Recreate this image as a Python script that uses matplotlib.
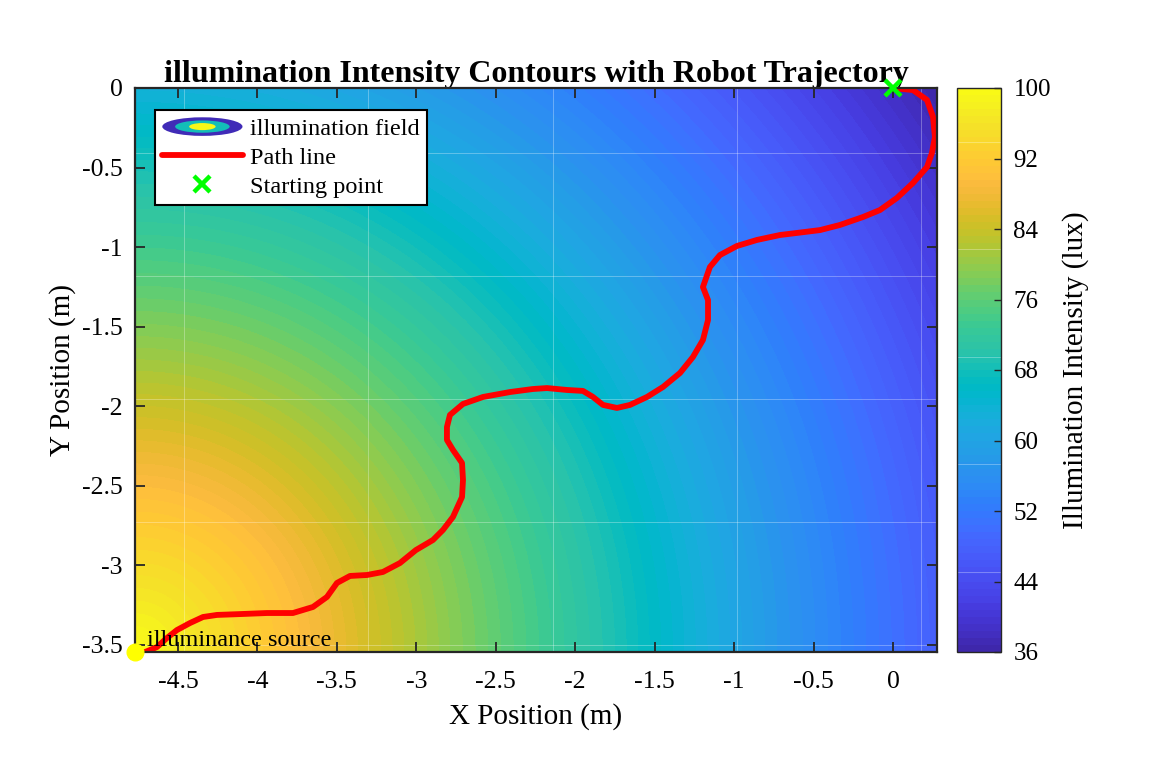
import numpy as np
import matplotlib
matplotlib.use("Agg")
import matplotlib.pyplot as plt
from matplotlib.colors import LinearSegmentedColormap
from matplotlib.legend_handler import HandlerBase
from matplotlib.patches import Ellipse, Patch
from matplotlib.lines import Line2D
from matplotlib.ticker import FuncFormatter

plt.rcParams['font.family'] = ['Liberation Serif', 'DejaVu Serif']
plt.rcParams['axes.unicode_minus'] = False

# ---------------- data ----------------
source_xy = (-4.77, -3.545)          # illuminance source (m)
x_limits = (-4.77, 0.277)
y_limits = (-3.545, 0.0)

# radial intensity profile (distance m -> lux)
profile_dist = [0.0, 1.0, 2.0, 3.0, 4.0, 5.0, 6.17]
profile_lux = [100, 90, 79, 69, 58, 48, 36]

# robot trajectory (m), from starting point to the source
path_x = [0.000, 0.126, 0.214, 0.252, 0.264, 0.245, 0.214, 0.126, 0.025, -0.082,
          -0.189, -0.334, -0.459, -0.604, -0.711, -0.856, -0.982, -1.089, -1.152, -1.196,
          -1.164, -1.164, -1.196, -1.259, -1.340, -1.447, -1.548, -1.655, -1.737, -1.825,
          -1.888, -1.951, -2.052, -2.177, -2.266, -2.410, -2.580, -2.706, -2.788, -2.807,
          -2.807, -2.769, -2.712, -2.706, -2.712, -2.769, -2.832, -2.895, -3.002, -3.103,
          -3.210, -3.310, -3.417, -3.499, -3.562, -3.650, -3.776, -3.940, -4.091, -4.254,
          -4.342, -4.424, -4.506, -4.569, -4.632, -4.720, -4.770]
path_y = [0.000, -0.013, -0.075, -0.182, -0.308, -0.409, -0.497, -0.597, -0.691, -0.767,
          -0.811, -0.861, -0.893, -0.911, -0.924, -0.955, -0.993, -1.050, -1.125, -1.251,
          -1.333, -1.458, -1.584, -1.691, -1.791, -1.879, -1.942, -1.992, -2.011, -1.992,
          -1.942, -1.904, -1.898, -1.886, -1.892, -1.911, -1.942, -1.986, -2.055, -2.131,
          -2.212, -2.275, -2.357, -2.464, -2.571, -2.696, -2.778, -2.841, -2.904, -2.986,
          -3.042, -3.061, -3.067, -3.111, -3.199, -3.262, -3.300, -3.300, -3.306, -3.312,
          -3.325, -3.363, -3.407, -3.457, -3.514, -3.551, -3.545]
start_xy = (0.0, 0.0)

cbar_ticks = [36, 44, 52, 60, 68, 76, 84, 92, 100]
x_ticks = [-4.5, -4, -3.5, -3, -2.5, -2, -1.5, -1, -0.5, 0]
y_ticks = [0, -0.5, -1, -1.5, -2, -2.5, -3, -3.5]

# faint rendering seams visible in the reference
seam_x = [-4.462, -3.304, -2.140, -0.982, 0.176]
seam_y = [-0.409, -1.182, -1.955, -2.728, -3.501]
seam_c = [93.9, 81.7, 69.5, 57.3, 45.1]

# ---------------- parula colormap ----------------
parula_data = [
    [0.2422, 0.1504, 0.6603], [0.2504, 0.1650, 0.7076], [0.2578, 0.1818, 0.7511],
    [0.2647, 0.1978, 0.7952], [0.2706, 0.2147, 0.8364], [0.2751, 0.2342, 0.8710],
    [0.2783, 0.2559, 0.8991], [0.2803, 0.2782, 0.9221], [0.2813, 0.3006, 0.9414],
    [0.2810, 0.3228, 0.9579], [0.2795, 0.3447, 0.9717], [0.2760, 0.3667, 0.9829],
    [0.2699, 0.3892, 0.9906], [0.2602, 0.4123, 0.9952], [0.2440, 0.4358, 0.9988],
    [0.2206, 0.4603, 0.9973], [0.1963, 0.4847, 0.9892], [0.1834, 0.5074, 0.9798],
    [0.1786, 0.5289, 0.9682], [0.1764, 0.5499, 0.9520], [0.1687, 0.5703, 0.9359],
    [0.1540, 0.5902, 0.9218], [0.1460, 0.6091, 0.9079], [0.1380, 0.6276, 0.8973],
    [0.1248, 0.6459, 0.8883], [0.1113, 0.6635, 0.8763], [0.0952, 0.6798, 0.8598],
    [0.0689, 0.6948, 0.8394], [0.0297, 0.7082, 0.8163], [0.0036, 0.7203, 0.7917],
    [0.0067, 0.7312, 0.7660], [0.0433, 0.7411, 0.7394], [0.0964, 0.7500, 0.7120],
    [0.1408, 0.7584, 0.6842], [0.1717, 0.7670, 0.6554], [0.1938, 0.7758, 0.6251],
    [0.2161, 0.7843, 0.5923], [0.2470, 0.7918, 0.5567], [0.2906, 0.7973, 0.5188],
    [0.3406, 0.8008, 0.4789], [0.3909, 0.8029, 0.4354], [0.4456, 0.8024, 0.3909],
    [0.5044, 0.7993, 0.3480], [0.5616, 0.7942, 0.3045], [0.6174, 0.7876, 0.2612],
    [0.6720, 0.7793, 0.2227], [0.7242, 0.7698, 0.1910], [0.7738, 0.7598, 0.1646],
    [0.8203, 0.7498, 0.1535], [0.8634, 0.7406, 0.1596], [0.9035, 0.7330, 0.1774],
    [0.9393, 0.7288, 0.2100], [0.9728, 0.7298, 0.2394], [0.9956, 0.7434, 0.2371],
    [0.9970, 0.7659, 0.2199], [0.9952, 0.7893, 0.2028], [0.9892, 0.8136, 0.1885],
    [0.9786, 0.8386, 0.1766], [0.9676, 0.8639, 0.1643], [0.9610, 0.8890, 0.1537],
    [0.9597, 0.9135, 0.1423], [0.9628, 0.9373, 0.1265], [0.9691, 0.9606, 0.1064],
    [0.9769, 0.9839, 0.0805]]
parula = LinearSegmentedColormap.from_list("parula", parula_data, N=256)

# ---------------- figure ----------------
W, H = 1152, 768
fig = plt.figure(figsize=(W / 100, H / 100), dpi=100)
ax = fig.add_axes([135 / W, 116 / H, 802 / W, 564 / H])
cax = fig.add_axes([957 / W, 116 / H, 44 / W, 564 / H])

gx = np.linspace(x_limits[0], x_limits[1], 500)
gy = np.linspace(y_limits[0], y_limits[1], 400)
GX, GY = np.meshgrid(gx, gy)
D = np.hypot(GX - source_xy[0], GY - source_xy[1])
Z = np.interp(D, profile_dist, profile_lux)

levels = np.linspace(36, 100, 81)
cf = ax.contourf(GX, GY, Z, levels=levels, cmap=parula, vmin=36, vmax=100)

for sx in seam_x:
    ax.axvline(sx, color='white', lw=0.7, alpha=0.3, zorder=1.5)
for sy in seam_y:
    ax.axhline(sy, color='white', lw=0.7, alpha=0.3, zorder=1.5)

path_line, = ax.plot(path_x, path_y, color=(1, 0, 0), lw=4.2, solid_capstyle='round',
                     solid_joinstyle='round', zorder=3, clip_on=True)
start_mk, = ax.plot([start_xy[0]], [start_xy[1]], linestyle='none', marker='x',
                    markersize=11, markeredgewidth=3.2, color=(0, 1, 0), zorder=5,
                    clip_on=False)
ax.plot([source_xy[0]], [source_xy[1]], linestyle='none', marker='o', markersize=12,
        color=(1, 1, 0), markeredgecolor=(1, 1, 0), zorder=5, clip_on=False)
ax.text(-4.695, -3.507, 'illuminance source', fontsize=17.5, color='black',
        ha='left', va='baseline', zorder=6)

ax.set_xlim(*x_limits)
ax.set_ylim(*y_limits)
ax.set_xticks(x_ticks)
ax.set_yticks(y_ticks)
fmt = FuncFormatter(lambda v, p: ('%g' % v) if abs(v) > 1e-9 else '0')
ax.xaxis.set_major_formatter(fmt)
ax.yaxis.set_major_formatter(fmt)
ax.tick_params(direction='in', length=7, width=1.3, colors=(0.15, 0.15, 0.15),
               labelsize=18.5, labelcolor='black', top=True, right=True)
ax.tick_params(axis='x', pad=14)
ax.tick_params(axis='y', pad=9)
for sp in ax.spines.values():
    sp.set_linewidth(1.6)
    sp.set_color((0.15, 0.15, 0.15))
    sp.set_zorder(4)

ax.set_xlabel('X Position (m)', fontsize=21, labelpad=7)
ax.set_ylabel('Y Position (m)', fontsize=21, labelpad=4)
ax.set_title('illumination Intensity Contours with Robot Trajectory', fontsize=23,
             fontweight='bold', pad=4)

# colorbar
cb = fig.colorbar(cf, cax=cax, ticks=cbar_ticks)
cb.ax.set_ylim(36, 100)
cax.tick_params(direction='in', length=5, width=1.0, colors=(0.15, 0.15, 0.15),
                labelsize=18, labelcolor='black', pad=9)
cb.outline.set_linewidth(1.0)
cb.outline.set_edgecolor((0.15, 0.15, 0.15))
cb.set_label('Illumination Intensity (lux)', fontsize=21, labelpad=8)
for sc in seam_c:
    cax.axhline(sc, color='white', lw=0.7, alpha=0.3)


# legend with contour-like icon
class FieldHandler(HandlerBase):
    def create_artists(self, legend, orig_handle, xdescent, ydescent, width, height,
                       fontsize, trans):
        cx = -xdescent + width / 2.0
        cy = -ydescent + height / 2.0
        arts = []
        for fw, fh, col in [(1.0, 1.0, parula(0.02)), (0.68, 0.66, parula(0.5)),
                            (0.33, 0.38, parula(0.99))]:
            e = Ellipse((cx, cy), width * fw, height * fh, facecolor=col,
                        edgecolor='none', transform=trans)
            arts.append(e)
        return arts


field_proxy = Patch(facecolor=parula(0.5))
leg_start = Line2D([], [], linestyle='none', marker='x', markersize=11,
                   markeredgewidth=3.2, color=(0, 1, 0))
leg = ax.legend([field_proxy, path_line, leg_start],
                ['illumination field', 'Path line', 'Starting point'],
                handler_map={Patch: FieldHandler()},
                loc='upper left', bbox_to_anchor=(20 / 802, 1 - 22 / 564),
                borderaxespad=0, fontsize=17.5, frameon=True, fancybox=False,
                framealpha=1, edgecolor='black', handlelength=3.3, handletextpad=0.3,
                handleheight=0.8, labelspacing=0.25, borderpad=0.3)
leg.get_frame().set_linewidth(1.5)
leg.set_zorder(10)

fig.savefig('out.png', dpi=100)
